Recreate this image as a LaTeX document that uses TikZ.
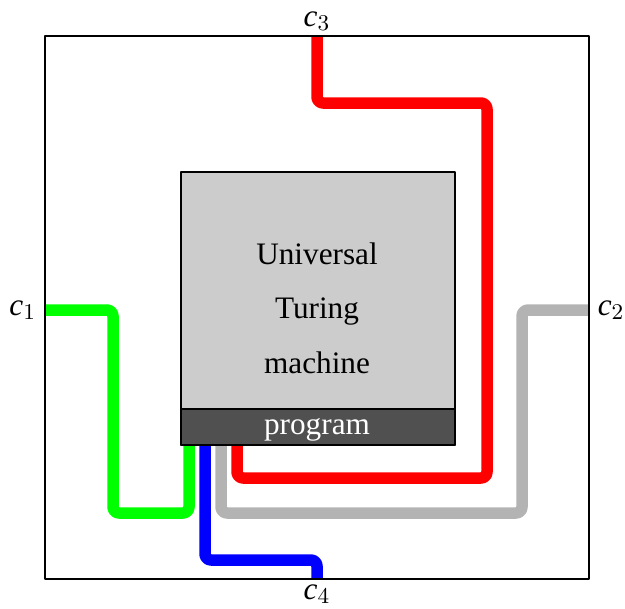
\documentclass[tikz,border=0pt]{standalone}
\usepackage{fontspec}
\setmainfont{Liberation Serif}
\definecolor{boxgray}{RGB}{204,204,204}
\definecolor{proggray}{RGB}{80,80,80}
\definecolor{wiregray}{RGB}{179,179,179}
\tikzset{
  wire/.style={line width=4.6pt,rounded corners=2.4pt},
  port/.style={font=\fontsize{12.5}{15}\selectfont},
}
\begin{document}
\begin{tikzpicture}[x=0.4pt,y=-0.4pt,line join=round]
        \useasboundingbox (0,0) rectangle (625,608);
        \coordinate (c1) at (45,310);
        \coordinate (c2) at (589,310);
        \coordinate (c3) at (317,36);
        \coordinate (c4) at (317,579);

        % Anschluesse unten am Programm
        \coordinate (pgreen) at (189,445);
        \coordinate (pblue) at (205,445);
        \coordinate (pgray) at (221,445);
        \coordinate (pred) at (237,445);

        % Leitungen
        \draw[wire,green] (c1) -| (113,513) -| (pgreen);
        \draw[wire,blue] (pblue) |- (317,560) -- (c4);
        \draw[wire,wiregray] (c2) -| (522,513) -| (pgray);
        \draw[wire,red] (c3) |- (487,103) |- (237,478) -- (pred);

        % Aeusserer Rahmen
        \draw[line width=0.8pt] (45,36) rectangle (589,579);

        % Universelle Maschine
        \node[draw,fill=boxgray,line width=0.6pt,minimum width=109.6pt,
              minimum height=109.2pt,inner sep=0pt] (utm) at (318,308.5) {};
        \node[draw,fill=proggray,line width=0.6pt,minimum width=109.6pt,
              minimum height=14.4pt,inner sep=0pt] (prog) at (318,427) {};
        \node[text=white,font=\fontsize{12.5}{15}\selectfont] (progtext) at (317,430) {program};
        \node[align=center,font=\fontsize{12.5}{21.8}\selectfont] (utmtext) at (317,308)
            {Universal\\Turing\\machine};

        % Beschriftungen
        \node[port,left] at (c1) {$\textit{c}_1$};
        \node[port,right] at (c2) {$\textit{c}_2$};
        \node[port,above,inner sep=2pt] at (c3) {$\textit{c}_3$};
        \node[port,below,inner sep=2pt] at (c4) {$\textit{c}_4$};
    \end{tikzpicture}
\end{document}
